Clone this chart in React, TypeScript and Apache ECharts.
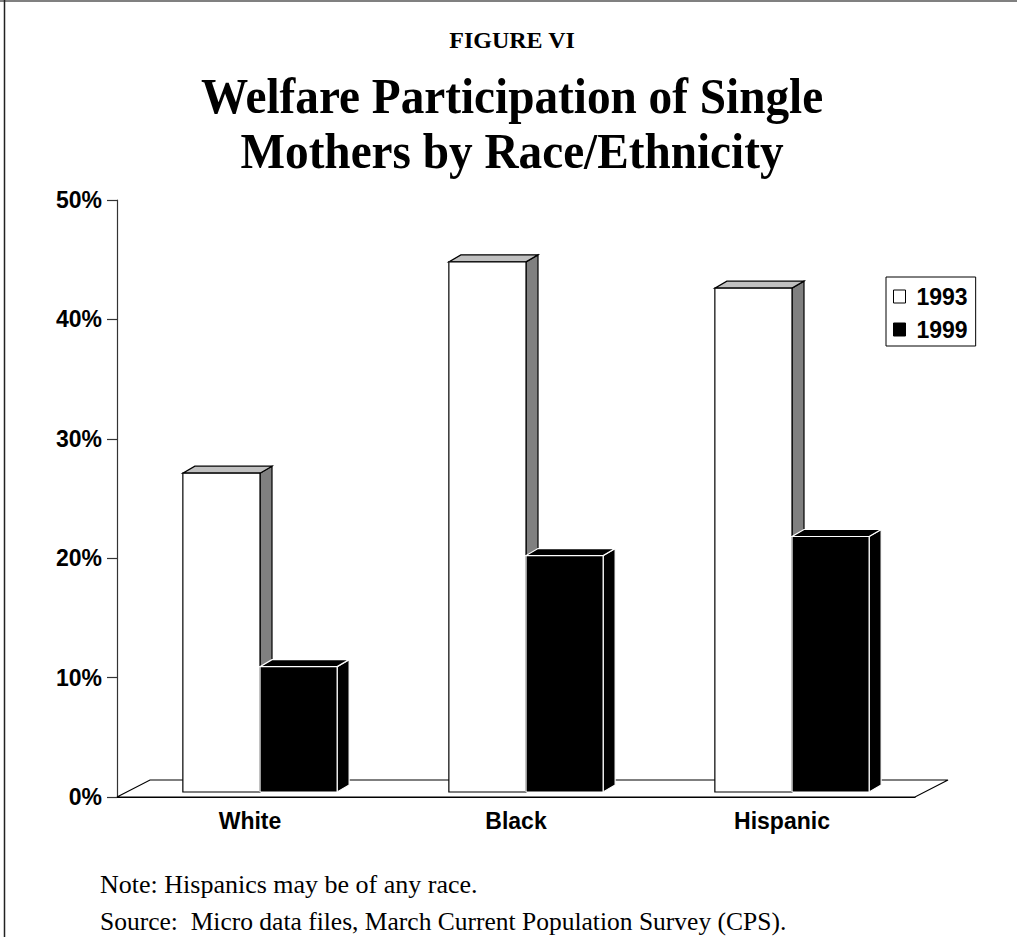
import React, { useEffect, useRef } from "react";
import * as echarts from "echarts";

const categories = ["White", "Black", "Hispanic"];
const values1993 = [26.7, 44.4, 42.2];
const values1999 = [10.5, 19.8, 21.4];
const seriesNames = ["1993", "1999"];
const yMin = 0;
const yMax = 50;
const yInterval = 10;

// 3D styling constants (pixels)
const BAR_OFF_X = 10;
const BAR_OFF_Y = -5;
const DEPTH_X = 12;
const DEPTH_Y = -7;
const FLOOR_X = 33;
const FLOOR_Y = -17;
const BAR_FRAC = 0.29;

type Faces = { front: string; top: string; side: string; stroke: string; lw: number };

const faces1993: Faces = { front: "#ffffff", top: "#c0c0c0", side: "#808080", stroke: "#000000", lw: 1.2 };
const faces1999: Faces = { front: "#000000", top: "#000000", side: "#000000", stroke: "#ffffff", lw: 1.2 };

function makeBarRenderer(idx: number, f: Faces) {
  return (params: any, api: any) => {
    const cat = api.value(0);
    const v = api.value(1);
    const top = api.coord([cat, v]);
    const base = api.coord([cat, 0]);
    const band = api.size([1, 0])[0];
    const w = band * BAR_FRAC;
    const x0 = top[0] + (idx === 0 ? -w : 0) + BAR_OFF_X;
    const yT = top[1] + BAR_OFF_Y;
    const yB = base[1] + BAR_OFF_Y;
    const stroke = { stroke: f.stroke, lineWidth: f.lw };
    return {
      type: "group",
      children: [
        {
          type: "polygon",
          shape: {
            points: [
              [x0 + w, yT],
              [x0 + w, yB],
              [x0 + w + DEPTH_X, yB + DEPTH_Y],
              [x0 + w + DEPTH_X, yT + DEPTH_Y],
            ],
          },
          style: { fill: f.side, ...stroke },
        },
        {
          type: "polygon",
          shape: {
            points: [
              [x0, yT],
              [x0 + w, yT],
              [x0 + w + DEPTH_X, yT + DEPTH_Y],
              [x0 + DEPTH_X, yT + DEPTH_Y],
            ],
          },
          style: { fill: f.top, ...stroke },
        },
        {
          type: "rect",
          shape: { x: x0, y: yT, width: w, height: yB - yT },
          style: { fill: f.front, ...stroke },
        },
      ],
    };
  };
}

function floorRenderer(params: any, api: any) {
  const cs = params.coordSys;
  const x = cs.x;
  const y = cs.y + cs.height;
  const w = cs.width;
  return {
    type: "polygon",
    shape: {
      points: [
        [x, y],
        [x + w, y],
        [x + w + FLOOR_X, y + FLOOR_Y],
        [x + FLOOR_X, y + FLOOR_Y],
      ],
    },
    style: { fill: "#ffffff", stroke: "#000000", lineWidth: 1.2 },
  };
}

export default function App() {
  const ref = useRef<HTMLDivElement>(null);
  useEffect(() => {
    if (!ref.current) return;
    const chart = echarts.init(ref.current, undefined, { renderer: "svg" });
    const serif = "'Liberation Serif', 'Times New Roman', serif";
    const sans = "'Liberation Sans', Arial, sans-serif";
    chart.setOption({
      animation: false,
      backgroundColor: "#ffffff",
      grid: { left: 117, right: 102, top: 200, bottom: 140 },
      xAxis: {
        type: "category",
        data: categories,
        axisLine: { show: true, lineStyle: { color: "#000", width: 1.2 } },
        axisTick: { show: false },
        axisLabel: {
          color: "#000",
          fontFamily: sans,
          fontWeight: "bold",
          fontSize: 23,
          margin: 12,
        },
        splitLine: { show: false },
      },
      yAxis: {
        type: "value",
        min: yMin,
        max: yMax,
        interval: yInterval,
        axisLine: { show: true, lineStyle: { color: "#333", width: 1.2 } },
        axisTick: { show: true, length: 10, lineStyle: { color: "#333", width: 1.2 } },
        axisLabel: {
          formatter: "{value}%",
          color: "#000",
          fontFamily: sans,
          fontWeight: "bold",
          fontSize: 23,
          margin: 15,
        },
        splitLine: { show: false },
      },
      legend: {
        orient: "vertical",
        left: 886,
        top: 277,
        itemWidth: 12,
        itemHeight: 13,
        itemGap: 10,
        padding: [8, 8, 5, 7],
        borderColor: "#000",
        borderWidth: 1,
        selectedMode: false,
        icon: "rect",
        textStyle: {
          fontFamily: sans,
          fontWeight: "bold",
          fontSize: 23,
          color: "#000",
          padding: [0, 0, 0, 6],
        },
        data: [
          { name: seriesNames[0], itemStyle: { color: "#fff", borderColor: "#000", borderWidth: 1 } },
          { name: seriesNames[1], itemStyle: { color: "#000", borderColor: "#000", borderWidth: 1 } },
        ],
      },
      graphic: [
        { type: "line", shape: { x1: 0, y1: 1, x2: 1017, y2: 1 }, style: { stroke: "#808080", lineWidth: 2 } },
        { type: "line", shape: { x1: 4.5, y1: 0, x2: 4.5, y2: 937 }, style: { stroke: "#222", lineWidth: 1.5 } },
        {
          type: "text",
          x: 512,
          y: 40,
          style: { text: "FIGURE VI", align: "center", verticalAlign: "middle", font: `bold 24px ${serif}`, fill: "#000" },
        },
        {
          type: "text",
          x: 512,
          y: 97,
          scaleX: 0.945,
          style: {
            text: "Welfare Participation of Single",
            align: "center",
            verticalAlign: "middle",
            font: `bold 50px ${serif}`,
            fill: "#000",
          },
        },
        {
          type: "text",
          x: 512,
          y: 152,
          scaleX: 0.945,
          style: {
            text: "Mothers by Race/Ethnicity",
            align: "center",
            verticalAlign: "middle",
            font: `bold 50px ${serif}`,
            fill: "#000",
          },
        },
        {
          type: "text",
          x: 100,
          y: 884,
          style: { text: "Note: Hispanics may be of any race.", align: "left", verticalAlign: "middle", font: `26px ${serif}`, fill: "#000" },
        },
        {
          type: "text",
          x: 100,
          y: 921,
          style: {
            text: "Source:  Micro data files, March Current Population Survey (CPS).",
            align: "left",
            verticalAlign: "middle",
            font: `25.5px ${serif}`,
            fill: "#000",
          },
        },
      ],
      series: [
        {
          type: "custom",
          name: "floor",
          renderItem: floorRenderer,
          data: [[0, 0]],
          clip: false,
          z: 1,
          silent: true,
        },
        {
          type: "custom",
          name: seriesNames[0],
          renderItem: makeBarRenderer(0, faces1993),
          data: values1993.map((v, i) => [i, v]),
          clip: false,
          z: 2,
          itemStyle: { color: "#fff", borderColor: "#000" },
        },
        {
          type: "custom",
          name: seriesNames[1],
          renderItem: makeBarRenderer(1, faces1999),
          data: values1999.map((v, i) => [i, v]),
          clip: false,
          z: 3,
          itemStyle: { color: "#000" },
        },
      ],
    });
    return () => chart.dispose();
  }, []);
  return (
    <div
      ref={ref}
      style={{ position: "fixed", left: 0, top: 0, width: 1017, height: 937 }}
    />
  );
}
